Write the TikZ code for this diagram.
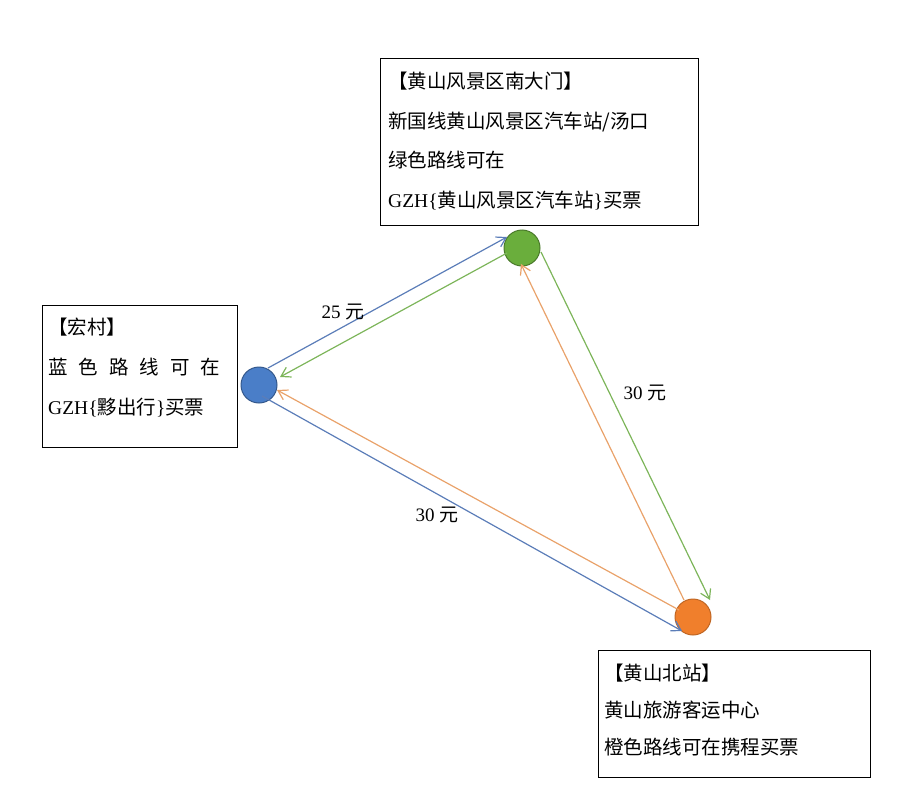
\documentclass[tikz,border=0pt]{standalone}
\usepackage{fontspec}
\setmainfont{Liberation Serif}
\newfontfamily\cjk{Noto Sans CJK SC}
\usetikzlibrary{arrows.meta}
\definecolor{cblue}{HTML}{4A7EC8}
\definecolor{cgreen}{HTML}{6AAE3C}
\definecolor{corange}{HTML}{F07F2C}
\definecolor{lblue}{HTML}{5B7DB8}
\definecolor{lgreen}{HTML}{7DB55A}
\definecolor{lorange}{HTML}{E9A26A}
\begin{document}
\begin{tikzpicture}[x=1pt,y=-1pt,
  dot/.style={circle,draw,line width=1pt,minimum size=36pt,inner sep=0pt},
  conn/.style={line width=1.2pt,-{Straight Barb[length=9pt,width=11pt]}},
  lbl/.style={font=\fontsize{19}{22}\selectfont}]
\useasboundingbox (0,0) rectangle (899,800);
\node[dot,fill=cblue,draw=cblue!70!black] (h) at (259,385) {};
\node[dot,fill=cgreen,draw=cgreen!70!black] (g) at (522,248) {};
\node[dot,fill=corange,draw=corange!80!black] (o) at (693,617) {};
\node[draw,line width=1.2pt,minimum width=318pt,minimum height=167pt,anchor=north west] (tb) at (380,58) {};
\node[anchor=north west,align=left,font=\fontsize{19.5}{39.5}\selectfont,inner sep=0pt] (tt) at (388,72) {\cjk【黄山风景区南大门】\\ \cjk 新国线黄山风景区汽车站/汤口\\ \cjk 绿色路线可在\\ GZH\{{\cjk 黄山风景区汽车站}\}{\cjk 买票}};
\node[draw,line width=1.2pt,minimum width=195pt,minimum height=142pt,anchor=north west] (lb) at (42,305) {};
\node[anchor=north west,align=left,font=\fontsize{19.5}{40}\selectfont,inner sep=0pt] (lt) at (48,318) {\cjk【宏村】\\ {\cjk 蓝\hspace{11pt}色\hspace{11pt}路\hspace{11pt}线\hspace{11pt}可\hspace{11pt}在}\\ GZH\{{\cjk 黟出行}\}{\cjk 买票}};
\node[draw,line width=1.2pt,minimum width=272pt,minimum height=127pt,anchor=north west] (bb) at (598,650) {};
\node[anchor=north west,align=left,font=\fontsize{19.5}{37}\selectfont,inner sep=0pt] (bt) at (604,664) {\cjk【黄山北站】\\ \cjk 黄山旅游客运中心\\ \cjk 橙色路线可在携程买票};
\coordinate (hg1) at (268,368); \coordinate (hg2) at (507,237);
\coordinate (gh1) at (507,253); \coordinate (gh2) at (280,377);
\coordinate (go1) at (541,252); \coordinate (go2) at (710,600);
\coordinate (og1) at (684,600); \coordinate (og2) at (521,264);
\coordinate (ho1) at (262,396); \coordinate (ho2) at (682,631);
\coordinate (oh1) at (679,610); \coordinate (oh2) at (277,390);
\draw[conn,lblue] (hg1) -- (hg2);
\draw[conn,lgreen] (gh1) -- (gh2);
\draw[conn,lgreen] (go1) -- (go2);
\draw[conn,lorange] (og1) -- (og2);
\draw[conn,lblue] (ho1) -- (ho2);
\draw[conn,lorange] (oh1) -- (oh2);
\node[lbl] (l1) at (343,312) {25 {\cjk 元}};
\node[lbl] (l2) at (645,393) {30 {\cjk 元}};
\node[lbl] (l3) at (437,515) {30 {\cjk 元}};
\end{tikzpicture}
\end{document}
